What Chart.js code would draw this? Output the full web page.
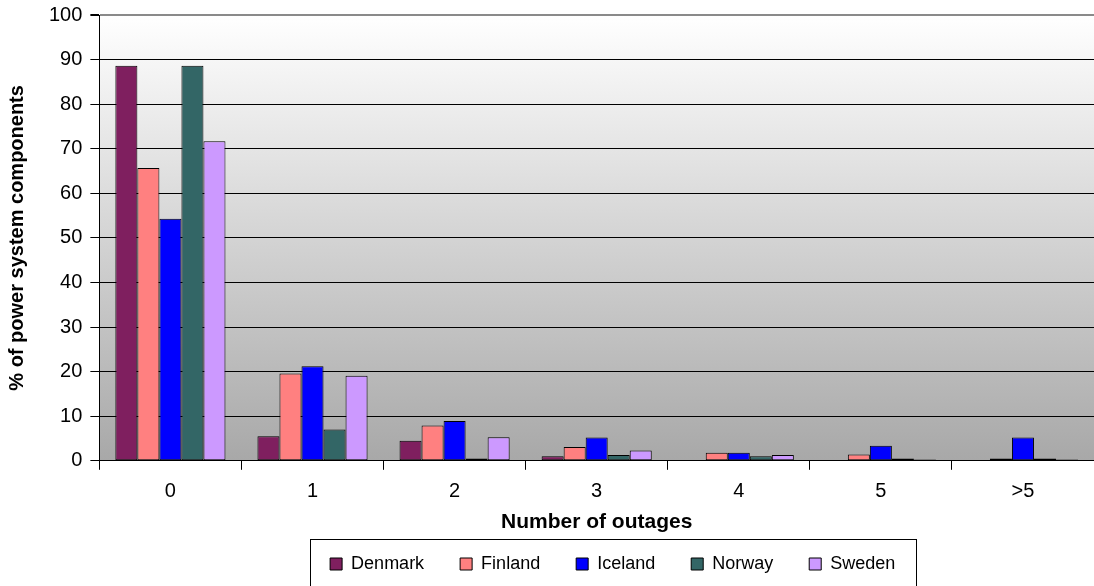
<!DOCTYPE html>
<html>
<head>
<meta charset="utf-8">
<script src="https://cdn.jsdelivr.net/npm/chart.js@4.4.1/dist/chart.umd.min.js"></script>
<style>
  html, body { margin: 0; padding: 0; background: #ffffff; }
  #wrap { width: 1094px; height: 586px; }
</style>
</head>
<body>
<div id="wrap"><canvas id="outageChart"></canvas></div>
<script>
var categories = ['0', '1', '2', '3', '4', '5', '>5'];
var denmark = [88.6, 5.5, 4.5, 1.0, 0, 0, 0];
var finland = [65.7, 19.6, 7.9, 3.1, 1.8, 1.4, 0.5];
var iceland = [54.3, 21.2, 8.9, 5.2, 1.8, 3.4, 5.2];
var norway  = [88.6, 7.0, 0.5, 1.3, 1.0, 0.5, 0.5];
var sweden  = [71.7, 19.1, 5.3, 2.3, 1.3, 0.3, 0.3];
var yTicks  = [0, 10, 20, 30, 40, 50, 60, 70, 80, 90, 100];

var FONT = "'Liberation Sans', Arial, sans-serif";
var LEGEND_PAD = 36;

function makeSet(label, data, color){
    return {
        label: label,
        data: data,
        backgroundColor: color,
        borderColor: '#000000',
        borderWidth: 1,
        borderSkipped: false,
        categoryPercentage: 0.775,
        barPercentage: 1.0
    };
}

// gray gradient behind plot area, like the old excel look
var plotBackground = {
    id: 'plotBackground',
    beforeDraw: function(chart){
        var a = chart.chartArea;
        var ctx = chart.ctx;
        var g = ctx.createLinearGradient(0, a.top, 0, a.bottom);
        g.addColorStop(0, '#ffffff');
        g.addColorStop(1, '#a8a8a8');
        ctx.save();
        ctx.fillStyle = g;
        ctx.fillRect(a.left, a.top, a.right - a.left, a.bottom - a.top);
        ctx.restore();
    }
};

// nudge legend right a bit (it sits right of centre in the original)
var legendShift = {
    id: 'legendShift',
    afterLayout: function(chart){
        chart.legend.left += 16;
        chart.legend.right += 16;
    }
};

// frame round the legend
var legendFrame = {
    id: 'legendFrame',
    afterDraw: function(chart){
        var lg = chart.legend;
        var cx = (lg.left + lg.right) / 2;
        var ctx = chart.ctx;
        ctx.save();
        ctx.strokeStyle = '#000000';
        ctx.lineWidth = 1;
        ctx.strokeRect(Math.round(cx - 303) + 0.5, Math.round(lg.top + LEGEND_PAD - 16) + 0.5, 606, chart.height);
        ctx.restore();
    }
};

var config = {
    type: 'bar',
    data: {
        labels: categories,
        datasets: [
            makeSet('Denmark', denmark, '#7f1f5f'),
            makeSet('Finland', finland, '#ff8080'),
            makeSet('Iceland', iceland, '#0000ff'),
            makeSet('Norway', norway, '#336666'),
            makeSet('Sweden', sweden, '#cc99ff')
        ]
    },
    options: {
        responsive: true,
        maintainAspectRatio: false,
        animation: false,
        layout: { padding: { left: 5, right: 0, top: 0, bottom: 3 } },
        plugins: {
            legend: {
                position: 'bottom',
                fullSize: false,
                labels: {
                    font: { family: FONT, size: 18 },
                    color: '#000000',
                    boxWidth: 12,
                    boxHeight: 12,
                    padding: LEGEND_PAD,
                    generateLabels: function(chart){
                        return chart.data.datasets.map(function(ds, i){
                            return {
                                text: ds.label,
                                fillStyle: ds.backgroundColor,
                                strokeStyle: '#000000',
                                lineWidth: 1,
                                datasetIndex: i
                            };
                        });
                    }
                }
            },
            tooltip: { enabled: false }
        },
        scales: {
            x: {
                offset: true,
                grid: {
                    offset: true,
                    drawOnChartArea: false,
                    drawTicks: true,
                    tickLength: 9,
                    color: '#000000'
                },
                border: { color: '#000000', width: 1 },
                ticks: {
                    font: { family: FONT, size: 20 },
                    color: '#000000',
                    padding: 10
                },
                title: {
                    display: true,
                    text: 'Number of outages',
                    font: { family: FONT, size: 21, weight: 'bold' },
                    color: '#000000',
                    padding: { top: -4, bottom: -16 }
                }
            },
            y: {
                min: 0,
                max: 100,
                afterBuildTicks: function(axis){
                    axis.ticks = yTicks.map(function(v){ return { value: v }; });
                },
                grid: {
                    color: function(c){ return c.tick && c.tick.value === 100 ? '#8a8a8a' : '#000000'; },
                    lineWidth: function(c){ return c.tick && c.tick.value === 100 ? 2 : 1; },
                    tickLength: 9,
                    tickColor: '#000000'
                },
                border: { color: '#000000', width: 1 },
                ticks: {
                    font: { family: FONT, size: 20, lineHeight: 0.7 },
                    color: '#000000',
                    padding: 8
                },
                title: {
                    display: true,
                    text: '% of power system components',
                    font: { family: FONT, size: 20, weight: 'bold' },
                    color: '#000000',
                    padding: { top: 0, bottom: 12 }
                }
            }
        }
    },
    plugins: [plotBackground, legendShift, legendFrame]
};

var outageChart = new Chart(document.getElementById('outageChart'), config);
</script>
</body>
</html>
